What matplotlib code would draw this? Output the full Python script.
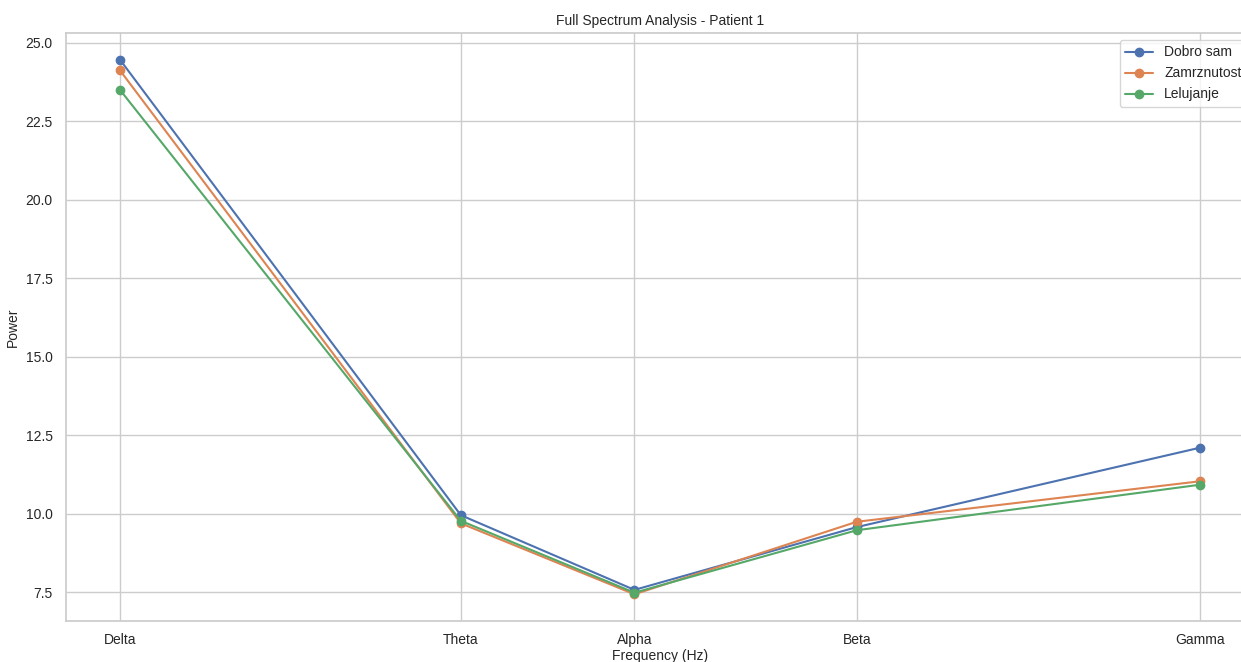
import numpy as np
import matplotlib
matplotlib.use('Agg')
import matplotlib.pyplot as plt
import seaborn as sns

sns.set_theme(style='whitegrid')
plt.rcParams['font.family'] = ['Liberation Sans', 'DejaVu Sans']

bands = ['Delta', 'Theta', 'Alpha', 'Beta', 'Gamma']
band_freqs = [2, 6, 10.5, 21.5, 65]  # representative frequency per band (Hz)

dobro_sam = [24.46, 9.95, 7.57, 9.57, 12.10]
zamrznutost = [24.12, 9.69, 7.43, 9.74, 11.03]
lelujanje = [23.50, 9.77, 7.48, 9.47, 10.92]

series = [('Dobro sam', dobro_sam), ('Zamrznutost', zamrznutost), ('Lelujanje', lelujanje)]

fig = plt.figure(figsize=(12.41, 6.62), dpi=100)
# axes run slightly past the right edge, as in the cropped original
ax = fig.add_axes([66 / 1241, 41 / 662, 1188 / 1241, 588 / 662])

for name, vals in series:
    ax.plot(band_freqs, vals, marker='o', markersize=6, linewidth=1.5, label=name)

ax.set_xscale('log')
ax.set_xticks(band_freqs)
ax.set_xticklabels(bands)
ax.xaxis.set_minor_locator(matplotlib.ticker.NullLocator())
ax.tick_params(labelsize=10)
ax.tick_params(axis='x', pad=2.5)

ax.set_xlabel('Frequency (Hz)', fontsize=10, labelpad=1.5)
ax.set_ylabel('Power', fontsize=10)
ax.set_title('Full Spectrum Analysis - Patient 1', fontsize=10)
ax.legend(loc='upper right', fontsize=10)

fig.savefig('out.png', dpi=100)
